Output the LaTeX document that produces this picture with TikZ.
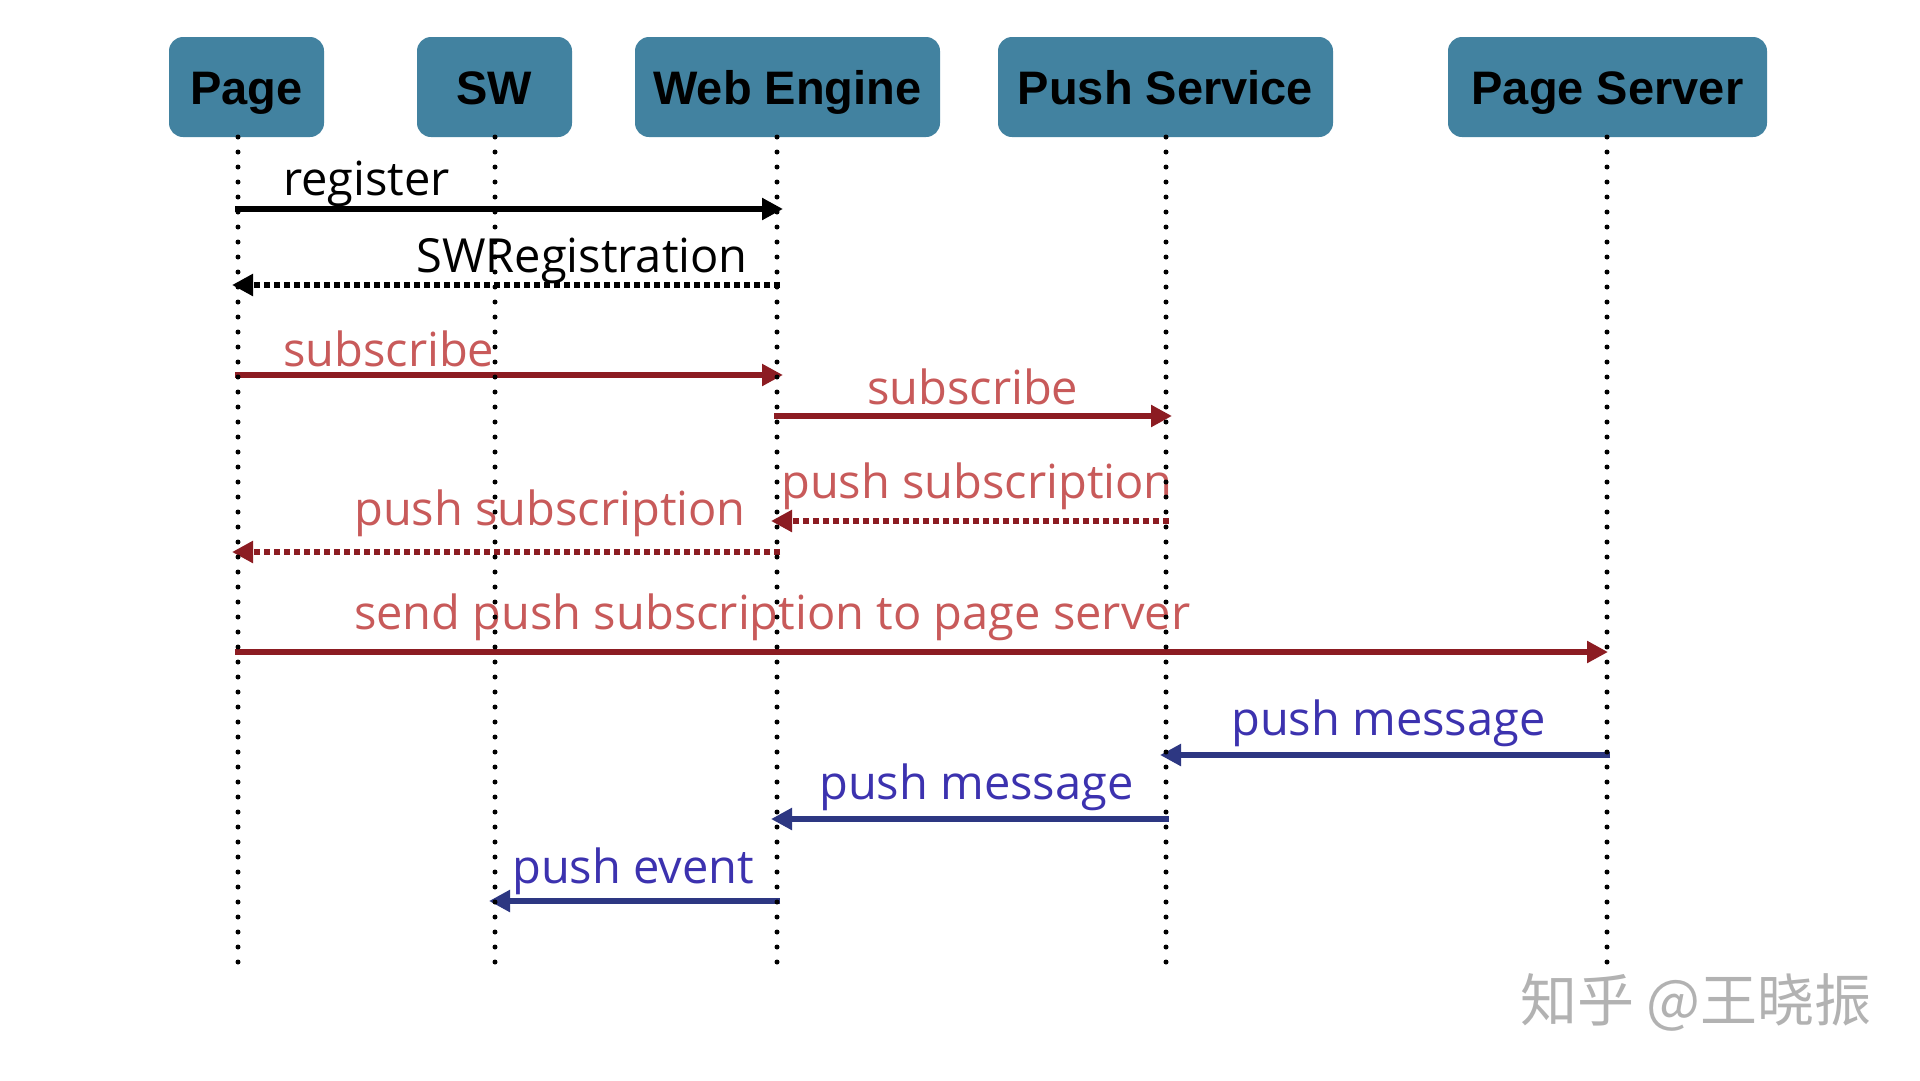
\documentclass[tikz,border=0pt]{standalone}
\usepackage{fontspec}
\setmainfont{Open Sans}
\newfontfamily\boxfont{Liberation Sans}
\newfontfamily\cjk{Noto Sans CJK SC}
\usetikzlibrary{arrows.meta}
\definecolor{boxblue}{RGB}{66,130,160}
\definecolor{redtxt}{RGB}{200,90,90}
\definecolor{redln}{RGB}{140,28,34}
\definecolor{bluetxt}{RGB}{60,50,175}
\definecolor{blueln}{RGB}{45,55,130}
\definecolor{wmgray}{RGB}{178,178,178}
\begin{document}
\begin{tikzpicture}[x=1pt,y=-1pt,
  actor/.style={draw=none, fill=boxblue, rounded corners=14pt, minimum height=100pt,
    inner sep=0pt, text height=34pt, text depth=0pt,
    font=\boxfont\bfseries\fontsize{47}{50}\selectfont, text=black},
  life/.style={line width=5pt, line cap=round, dash pattern=on 0pt off 15pt},
  msg/.style={line width=5.5pt, -{Triangle[length=21pt,width=21pt]}, shorten >=-6pt, shorten <=-3pt},
  reply/.style={msg, dash pattern=on 6pt off 4pt},
  lbl/.style={inner sep=0pt, font=\fontsize{47}{50}\selectfont}
]
\fill[white] (0,0) rectangle (1920,1080);
\useasboundingbox (0,0) rectangle (1920,1080);

% actors
\node[actor, minimum width=155pt] (pg) at (246.5,87) {Page};
\node[actor, minimum width=155pt] (sw) at (494.5,87) {SW};
\node[actor, minimum width=305pt] (we) at (787.5,87) {Web Engine};
\node[actor, minimum width=335pt] (ps) at (1165.5,87) {Push Service};
\node[actor, minimum width=319pt] (sv) at (1607.5,87) {Page Server};

% lifeline coordinates
\coordinate (Lpg) at (238,137);  \coordinate (Bpg) at (238,964);
\coordinate (Lsw) at (495,137);  \coordinate (Bsw) at (495,964);
\coordinate (Lwe) at (777,137);  \coordinate (Bwe) at (777,964);
\coordinate (Lps) at (1166,137); \coordinate (Bps) at (1166,964);
\coordinate (Lsv) at (1607,137); \coordinate (Bsv) at (1607,964);

% message rows
\coordinate (r1) at (0,209);
\coordinate (r2) at (0,285);
\coordinate (r3) at (0,375);
\coordinate (r4) at (0,416);
\coordinate (r5) at (0,521);
\coordinate (r6) at (0,552);
\coordinate (r7) at (0,652);
\coordinate (r8) at (0,755);
\coordinate (r9) at (0,819);
\coordinate (r10) at (0,901);

% labels
\node[lbl, anchor=base west] (t1) at (283,195) {register};
\node[lbl, anchor=base east] (t2) at (748,272) {SWRegistration};
\node[lbl, anchor=base west, text=redtxt] (t3) at (283,366) {subscribe};
\node[lbl, anchor=base west, text=redtxt] (t4) at (867,404) {subscribe};
\node[lbl, anchor=base west, text=redtxt] (t5) at (781,498) {push subscription};
\node[lbl, anchor=base west, text=redtxt] (t6) at (354,525) {push subscription};
\node[lbl, anchor=base west, text=redtxt] (t7) at (354,629) {send push subscription to page server};
\node[lbl, anchor=base west, text=bluetxt] (t8) at (1231,735) {push message};
\node[lbl, anchor=base west, text=bluetxt] (t9) at (819,799) {push message};
\node[lbl, anchor=base west, text=bluetxt] (t10) at (512,883) {push event};

% messages
\draw[msg, black] (Lpg |- r1) -- (Lwe |- r1);
\draw[reply, black] (Lwe |- r2) -- (Lpg |- r2);
\draw[msg, redln] (Lpg |- r3) -- (Lwe |- r3);
\draw[msg, redln] (Lwe |- r4) -- (Lps |- r4);
\draw[reply, redln] (Lps |- r5) -- (Lwe |- r5);
\draw[reply, redln] (Lwe |- r6) -- (Lpg |- r6);
\draw[msg, redln, shorten >=-1pt] (Lpg |- r7) -- (Lsv |- r7);
\draw[msg, blueln] (Lsv |- r8) -- (Lps |- r8);
\draw[msg, blueln] (Lps |- r9) -- (Lwe |- r9);
\draw[msg, blueln] (Lwe |- r10) -- (Lsw |- r10);

% lifelines
\draw[life] (Lpg) -- (Bpg);
\draw[life] (Lsw) -- (Bsw);
\draw[life] (Lwe) -- (Bwe);
\draw[life] (Lps) -- (Bps);
\draw[life] (Lsv) -- (Bsv);

% watermark
\node[inner sep=0pt, anchor=west, text=wmgray, font=\cjk\fontsize{57}{60}\selectfont] (wm) at (1520,1002) {知乎 @王晓振};
\end{tikzpicture}
\end{document}
